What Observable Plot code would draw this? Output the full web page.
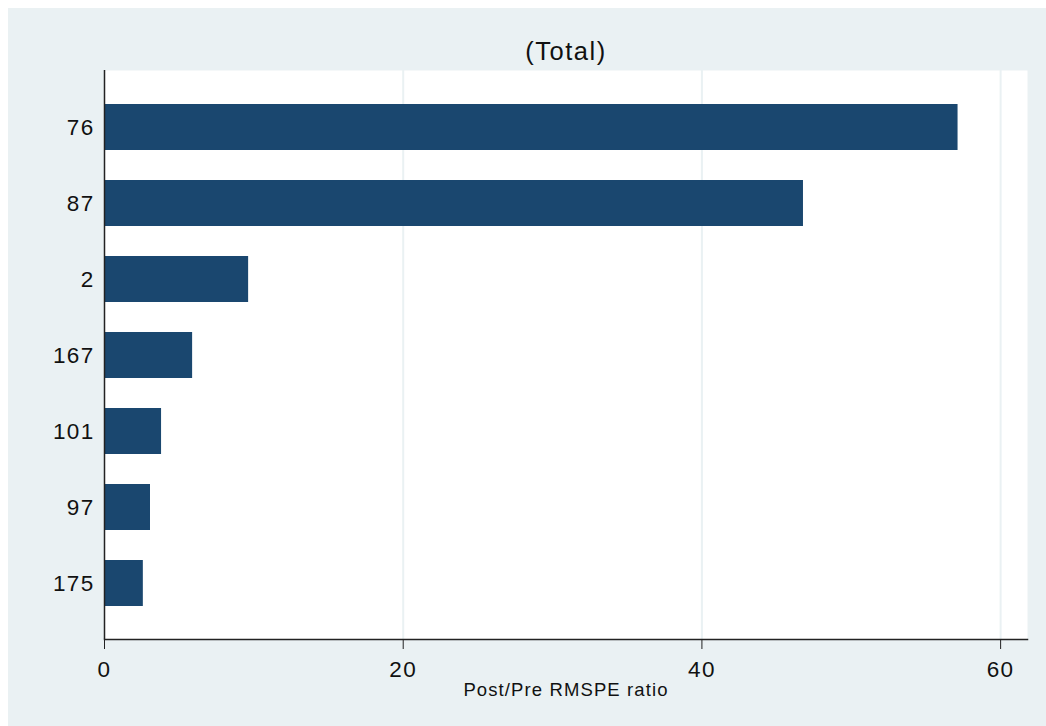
<!DOCTYPE html>
<html>
<head>
<meta charset="utf-8">
<script src="https://cdn.jsdelivr.net/npm/d3@7"></script>
<script src="https://cdn.jsdelivr.net/npm/@observablehq/plot@0.6"></script>
<style>
  html, body { margin: 0; padding: 0; background: #ffffff; }
  #chart { position: absolute; left: 8px; top: 8px; }
  svg { font-family: "Liberation Sans", Arial, sans-serif; }
  svg text { letter-spacing: 0.06em; }
</style>
</head>
<body>
<div id="chart"></div>
<script>
const units = ["76", "87", "2", "167", "101", "97", "175"];
const ratios = [57.15, 46.8, 9.65, 5.9, 3.82, 3.08, 2.6];
const xTicks = [0, 20, 40, 60];
const gridTicks = [20, 40, 60];
const titleText = "(Total)";
const xLabel = "Post/Pre RMSPE ratio";

const data = units.map((u, i) => ({unit: u, ratio: ratios[i]}));

const bg = "#EAF1F3";
const barColor = "#1a476f";

const plot = Plot.plot({
  width: 1038,
  height: 718,
  marginLeft: 96,
  marginRight: 19,
  marginTop: 62,
  marginBottom: 87,
  style: {background: bg, fontFamily: "'Liberation Sans', Arial, sans-serif", color: "#111"},
  x: {domain: [0, 61.8], ticks: xTicks},
  y: {domain: units, range: [96, 598], paddingInner: 0.395, paddingOuter: 0},
  marks: [
    Plot.frame({fill: "white", stroke: null}),
    Plot.ruleX(gridTicks, {stroke: bg, strokeWidth: 2}),
    Plot.barX(data, {x: "ratio", y: "unit", fill: barColor}),
    Plot.ruleX([0], {stroke: "#222", strokeWidth: 1.5}),
    Plot.frame({anchor: "bottom", stroke: "#222", strokeWidth: 1.5}),
    Plot.axisX({ticks: xTicks, tickSize: 10, tickPadding: 12, fontSize: 22.5, label: null, stroke: "#222", color: "#111"}),
    Plot.axisY({tickSize: 0, tickPadding: 10, fontSize: 22.5, label: null, color: "#111"}),
    Plot.text([titleText], {frameAnchor: "top", dy: -19, text: d => d, fontSize: 25.5, lineAnchor: "middle", fill: "#111"}),
    Plot.text([xLabel], {frameAnchor: "bottom", dy: 51, text: d => d, fontSize: 18.5, lineAnchor: "middle", fill: "#111"})
  ]
});
document.getElementById("chart").appendChild(plot);
</script>
</body>
</html>
